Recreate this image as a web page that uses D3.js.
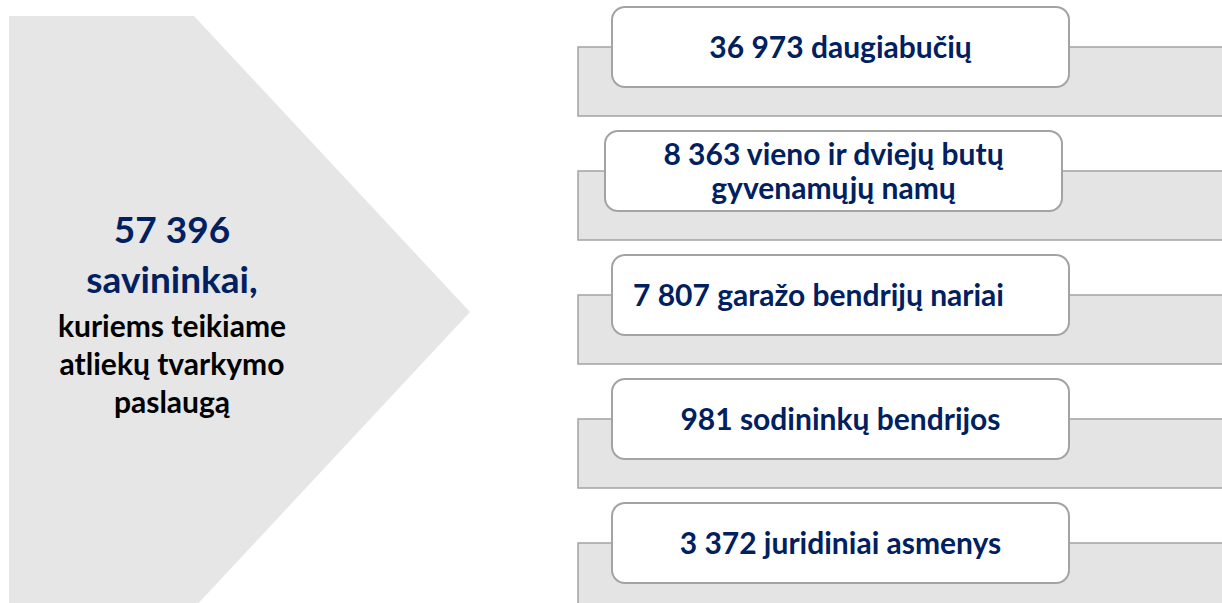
<!DOCTYPE html>
<html>
<head>
<meta charset="utf-8">
<script src="https://cdn.jsdelivr.net/npm/d3@7"></script>
<style>
  body { margin: 0; background: #fff; }
  text { font-family: Lato, "Open Sans", sans-serif; font-weight: 700; }
</style>
</head>
<body>
<script>
// data
var categories = ['daugiabuciai', 'namai', 'garazai', 'sodai', 'juridiniai'];
var counts = ['36 973', '8 363', '7 807', '981', '3 372'];
var descriptions = [
  'daugiabučių',
  'vieno ir dviejų butų\ngyvenamųjų namų',
  'garažo bendrijų nariai',
  'sodininkų bendrijos',
  'juridiniai asmenys'
];
var totalCount = '57 396';
var totalTitle = 'savininkai,';
var totalNote = ['kuriems teikiame', 'atliekų tvarkymo', 'paslaugą'];

// layout
var width = 1222, height = 603;
var navy = '#002060', grey = '#e4e4e4', edge = '#a3a3a3';
var labelAlign = ['middle', 'middle', 'start', 'middle', 'middle'];
var boxShift = [0, -7, 0, 0, 0];

var svg = d3.select('body').append('svg')
    .attr('width', width)
    .attr('height', height);

// left arrow shape
var arrow = [[9, 16], [194, 16], [470, 312], [194, 608], [9, 608]];
svg.append('path')
    .attr('d', d3.line()(arrow) + 'Z')
    .attr('fill', '#e6e6e6');

var cx = 172;
var left = svg.append('g').attr('text-anchor', 'middle');
left.append('text').attr('x', cx).attr('y', 243)
    .attr('font-size', 37).attr('fill', navy).text(totalCount);
left.append('text').attr('x', cx).attr('y', 293)
    .attr('font-size', 37).attr('fill', navy).text(totalTitle);
left.selectAll('text.note')
    .data(totalNote)
    .enter().append('text')
    .attr('class', 'note')
    .attr('x', cx)
    .attr('y', function (d, i) { return 337 + i * 38; })
    .attr('font-size', 30)
    .attr('fill', '#000')
    .text(function (d) { return d; });

// rows
var y = d3.scaleBand()
    .domain(categories)
    .range([47, 612])
    .paddingInner(55 / 124)
    .paddingOuter(0);

var barX = 578, boxX = 612, boxW = 457, boxH = 80, boxRise = 40;

var rows = svg.selectAll('g.row')
    .data(categories)
    .enter().append('g')
    .attr('class', 'row');

rows.append('rect')
    .attr('x', barX)
    .attr('y', function (d) { return y(d); })
    .attr('width', width - barX + 20)
    .attr('height', y.bandwidth())
    .attr('fill', grey)
    .attr('stroke', edge)
    .attr('stroke-width', 1.5);

rows.append('rect')
    .attr('x', function (d, i) { return boxX + boxShift[i]; })
    .attr('y', function (d) { return y(d) - boxRise; })
    .attr('width', boxW)
    .attr('height', boxH)
    .attr('rx', 13)
    .attr('fill', '#fff')
    .attr('stroke', edge)
    .attr('stroke-width', 2);

rows.each(function (d, i) {
    var lines = (counts[i] + ' ' + descriptions[i]).split('\n');
    var mid = y(d) - boxRise + boxH / 2;
    var align = labelAlign[i];
    var tx = align === 'start' ? boxX + 21 : boxX + boxShift[i] + boxW / 2;
    var lineH = 34;
    d3.select(this).selectAll('text')
        .data(lines)
        .enter().append('text')
        .attr('x', tx)
        .attr('y', function (l, j) { return mid + 10.5 + (j - (lines.length - 1) / 2) * lineH; })
        .attr('text-anchor', align)
        .attr('font-size', 30)
        .attr('fill', navy)
        .text(function (l) { return l; });
});
</script>
</body>
</html>
